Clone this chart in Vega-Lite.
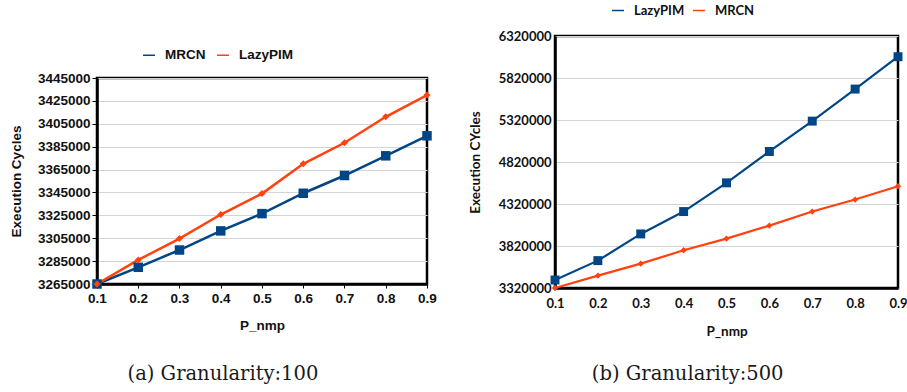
{
  "$schema": "https://vega.github.io/schema/vega-lite/v6.json",
  "background": "white",
  "padding": {"left": 8, "top": 2, "right": 5, "bottom": 5},
  "spacing": 28,
  "config": {
    "view": {"stroke": "black", "strokeWidth": 2.5},
    "title": {"font": "DejaVu Serif", "fontSize": 19.5, "fontWeight": "normal", "color": "#1a1a1a"}
  },
  "hconcat": [
    {
      "spacing": 0,
      "vconcat": [
        {
          "width": 330,
          "height": 33,
          "data": {"values": []},
          "mark": {"type": "point"},
          "view": {"stroke": null, "fill": "transparent"}
        },
        {
          "width": 330,
          "height": 206,
          "title": {"text": "(a) Granularity:100", "orient": "bottom", "anchor": "middle", "frame": "bounds", "offset": 33},
          "data": {"values": [
            {"p": 0.1, "series": "MRCN", "cycles": 3265000},
            {"p": 0.2, "series": "MRCN", "cycles": 3279600},
            {"p": 0.3, "series": "MRCN", "cycles": 3294700},
            {"p": 0.4, "series": "MRCN", "cycles": 3311400},
            {"p": 0.5, "series": "MRCN", "cycles": 3326500},
            {"p": 0.6, "series": "MRCN", "cycles": 3344300},
            {"p": 0.7, "series": "MRCN", "cycles": 3359800},
            {"p": 0.8, "series": "MRCN", "cycles": 3377000},
            {"p": 0.9, "series": "MRCN", "cycles": 3394500},
            {"p": 0.1, "series": "LazyPIM", "cycles": 3265000},
            {"p": 0.2, "series": "LazyPIM", "cycles": 3286000},
            {"p": 0.3, "series": "LazyPIM", "cycles": 3304700},
            {"p": 0.4, "series": "LazyPIM", "cycles": 3325700},
            {"p": 0.5, "series": "LazyPIM", "cycles": 3344000},
            {"p": 0.6, "series": "LazyPIM", "cycles": 3370000},
            {"p": 0.7, "series": "LazyPIM", "cycles": 3388400},
            {"p": 0.8, "series": "LazyPIM", "cycles": 3411100},
            {"p": 0.9, "series": "LazyPIM", "cycles": 3430100}
          ]},
          "encoding": {
            "x": {
              "field": "p", "type": "quantitative",
              "scale": {"domain": [0.1, 0.9], "nice": false, "zero": false},
              "axis": {
                "title": "P_nmp", "values": [0.1, 0.2, 0.3, 0.4, 0.5, 0.6, 0.7, 0.8, 0.9], "format": ".1f",
                "grid": false, "labelFlush": false, "labelFont": "Liberation Sans", "labelFontWeight": "bold", "labelFontSize": 13.5, "labelColor": "#111",
                "titleFont": "Liberation Sans", "titleFontWeight": "bold", "titleFontSize": 13.5, "titleColor": "#111", "titlePadding": 14,
                "domainColor": "black", "domainWidth": 2.5, "tickColor": "black", "tickSize": 4, "labelPadding": 3
              }
            },
            "y": {
              "field": "cycles", "type": "quantitative",
              "scale": {"domain": [3265000, 3445000], "nice": false, "zero": false},
              "axis": {
                "title": "Execution Cycles", "values": [3265000, 3285000, 3305000, 3325000, 3345000, 3365000, 3385000, 3405000, 3425000, 3445000], "format": "d",
                "grid": true, "gridColor": "#d4d4d4", "gridWidth": 1,
                "labelFont": "Liberation Sans", "labelFontWeight": "bold", "labelFontSize": 13.5, "labelColor": "#111",
                "titleFont": "Liberation Sans", "titleFontWeight": "bold", "titleFontSize": 13.5, "titleColor": "#111", "titlePadding": 14,
                "domainColor": "black", "domainWidth": 2.5, "tickColor": "black", "tickSize": 5, "labelPadding": 2
              }
            },
            "color": {
              "field": "series", "type": "nominal",
              "scale": {"domain": ["MRCN", "LazyPIM"], "range": ["#004586", "#ff420e"]},
              "legend": {
                "orient": "none", "legendX": 45, "legendY": 12, "padding": 0, "direction": "horizontal", "title": null,
                "symbolSize": 144, "labelFont": "Liberation Sans", "labelFontWeight": "bold", "labelFontSize": 13.5, "labelColor": "#111",
                "labelOffset": 9, "columnPadding": 8,
                "encoding": {"symbols": {"update": {
                  "shape": {"signal": "datum.value == 'MRCN' ? 'M-1.83,-0.21H1.83V0.21H-1.83Z M-0.7,-0.7H0.7V0.7H-0.7Z' : 'M-1.83,-0.21H1.83V0.21H-1.83Z M0,-0.65L0.65,0L0,0.65L-0.65,0Z'"},
                  "fill": {"signal": "datum.value == 'MRCN' ? '#004586' : '#ff420e'"},
                  "fillOpacity": {"value": 1},
                  "strokeWidth": {"value": 0}
                }}}
              }
            }
          },
          "layer": [
            {"mark": {"type": "line", "strokeWidth": 2.5}},
            {
              "mark": {"type": "point", "filled": true, "opacity": 1},
              "encoding": {
                "shape": {"condition": {"test": "datum.series == 'MRCN'", "value": "square"}, "value": "diamond"},
                "size": {"condition": {"test": "datum.series == 'MRCN'", "value": 90}, "value": 50}
              }
            }
          ]
        }
      ]
    },
    {
      "width": 343,
      "height": 252,
      "title": {"text": "(b) Granularity:500", "orient": "bottom", "anchor": "middle", "frame": "bounds", "offset": 27},
      "data": {"values": [
        {"p": 0.1, "series": "LazyPIM", "cycles": 3415400},
        {"p": 0.2, "series": "LazyPIM", "cycles": 3645800},
        {"p": 0.3, "series": "LazyPIM", "cycles": 3963700},
        {"p": 0.4, "series": "LazyPIM", "cycles": 4230000},
        {"p": 0.5, "series": "LazyPIM", "cycles": 4571700},
        {"p": 0.6, "series": "LazyPIM", "cycles": 4945200},
        {"p": 0.7, "series": "LazyPIM", "cycles": 5306700},
        {"p": 0.8, "series": "LazyPIM", "cycles": 5688200},
        {"p": 0.9, "series": "LazyPIM", "cycles": 6073600},
        {"p": 0.1, "series": "MRCN", "cycles": 3320000},
        {"p": 0.2, "series": "MRCN", "cycles": 3467000},
        {"p": 0.3, "series": "MRCN", "cycles": 3610000},
        {"p": 0.4, "series": "MRCN", "cycles": 3769000},
        {"p": 0.5, "series": "MRCN", "cycles": 3908000},
        {"p": 0.6, "series": "MRCN", "cycles": 4063000},
        {"p": 0.7, "series": "MRCN", "cycles": 4230000},
        {"p": 0.8, "series": "MRCN", "cycles": 4373000},
        {"p": 0.9, "series": "MRCN", "cycles": 4532000}
      ]},
      "encoding": {
        "x": {
          "field": "p", "type": "quantitative",
          "scale": {"domain": [0.1, 0.9], "nice": false, "zero": false},
          "axis": {
            "title": "P_nmp", "values": [0.1, 0.2, 0.3, 0.4, 0.5, 0.6, 0.7, 0.8, 0.9], "format": ".1f",
            "grid": false, "labelFlush": false, "labelFont": "Lato", "labelFontWeight": "bold", "labelFontSize": 13, "labelColor": "#111",
            "titleFont": "Lato", "titleFontWeight": "bold", "titleFontSize": 13.5, "titleColor": "#111", "titlePadding": 14,
            "domainColor": "black", "domainWidth": 2.5, "ticks": false, "labelPadding": 9
          }
        },
        "y": {
          "field": "cycles", "type": "quantitative",
          "scale": {"domain": [3320000, 6320000], "nice": false, "zero": false},
          "axis": {
            "title": "Execution CYcles", "values": [3320000, 3820000, 4320000, 4820000, 5320000, 5820000, 6320000], "format": "d",
            "grid": true, "gridColor": "#d4d4d4", "gridWidth": 1,
            "labelFont": "Lato", "labelFontWeight": "bold", "labelFontSize": 13, "labelColor": "#111",
            "titleFont": "Lato", "titleFontWeight": "bold", "titleFontSize": 13.5, "titleColor": "#111", "titlePadding": 16,
            "domainColor": "black", "domainWidth": 2.5, "ticks": false, "labelPadding": 4
          }
        },
        "color": {
          "field": "series", "type": "nominal",
          "scale": {"domain": ["LazyPIM", "MRCN"], "range": ["#004586", "#ff420e"]},
          "legend": {
            "orient": "none", "legendX": 56, "legendY": -32.5, "padding": 0, "direction": "horizontal", "title": null,
            "symbolSize": 144, "labelFont": "Lato", "labelFontWeight": "bold", "labelFontSize": 13, "labelColor": "#111",
            "labelOffset": 9, "columnPadding": 5,
            "encoding": {"symbols": {"update": {
              "shape": {"signal": "datum.value == 'LazyPIM' ? 'M-2,-0.18H2V0.18H-2Z M-0.75,-0.75H0.75V0.75H-0.75Z' : 'M-2,-0.18H2V0.18H-2Z M0,-0.6L0.6,0L0,0.6L-0.6,0Z'"},
              "fill": {"signal": "datum.value == 'LazyPIM' ? '#004586' : '#ff420e'"},
              "fillOpacity": {"value": 1},
              "strokeWidth": {"value": 0}
            }}}
          }
        }
      },
      "layer": [
        {"mark": {"type": "line", "strokeWidth": 2.2}},
        {
          "mark": {"type": "point", "filled": true, "opacity": 1},
          "encoding": {
            "shape": {"condition": {"test": "datum.series == 'LazyPIM'", "value": "square"}, "value": "diamond"},
            "size": {"condition": {"test": "datum.series == 'LazyPIM'", "value": 80}, "value": 40}
          }
        }
      ]
    }
  ],
  "resolve": {"scale": {"color": "independent", "x": "independent", "y": "independent"}, "legend": {"color": "independent"}}
}
